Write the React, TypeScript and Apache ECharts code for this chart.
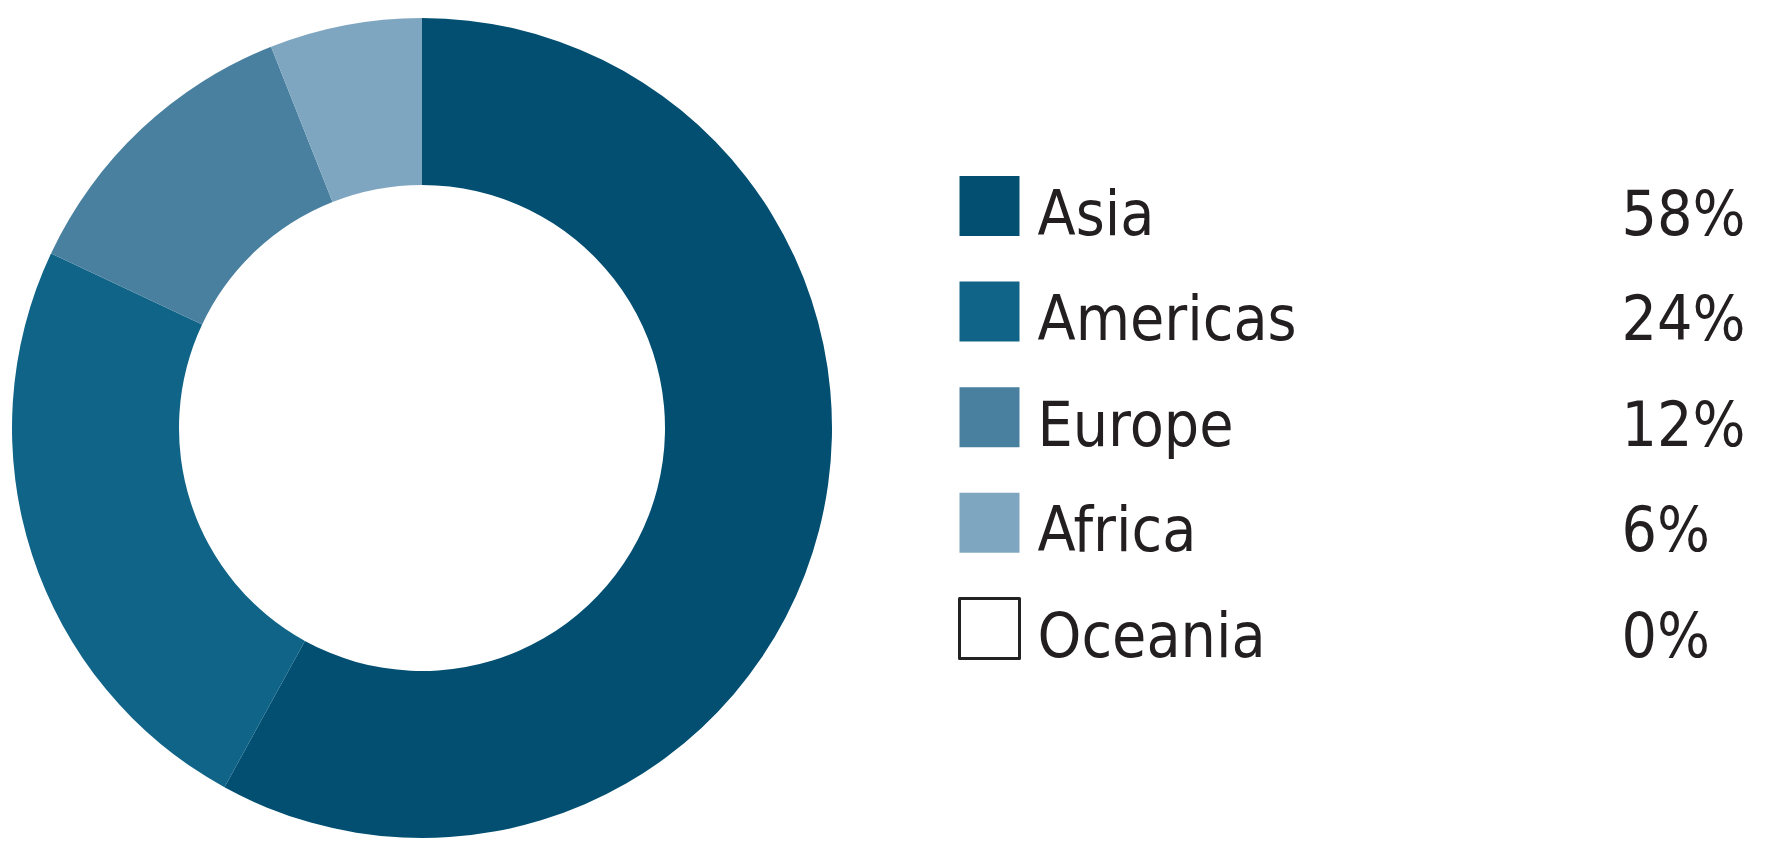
import React, { useEffect, useRef } from "react";
import * as echarts from "echarts";

const regions = ["Asia", "Americas", "Europe", "Africa", "Oceania"];
const shares = [58, 24, 12, 6, 0];
const colors = ["#024f72", "#106488", "#4a809f", "#7fa6c0", "#ffffff"];

export default function App() {
  const ref = useRef<HTMLDivElement>(null);
  useEffect(() => {
    document.body.style.margin = "0";
    const chart = echarts.init(ref.current!, null, { renderer: "svg" });
    const font = "'DejaVu Sans Condensed', 'DejaVu Sans', sans-serif";
    chart.setOption({
      animation: false,
      backgroundColor: "#ffffff",
      legend: {
        orient: "vertical",
        left: 958,
        top: 168,
        padding: 0,
        itemWidth: 60,
        itemHeight: 60,
        itemGap: 29.6,
        selectedMode: false,
        icon: "rect",
        data: regions.map((r, i) =>
          i === regions.length - 1
            ? { name: r, itemStyle: { color: "#ffffff", borderColor: "#222222", borderWidth: 3 } }
            : { name: r }
        ),
        formatter: (name: string) => {
          const i = regions.indexOf(name);
          return `{n|${name}}{v|${shares[i]}%}`;
        },
        textStyle: {
          rich: {
            n: { fontFamily: font, fontSize: 62, color: "#231f20", width: 584, lineHeight: 46, padding: [14, 0, 0, 13] },
            v: { fontFamily: font, fontSize: 62, color: "#231f20", lineHeight: 46, padding: [14, 0, 0, 0] },
          },
        },
      },
      series: [
        {
          type: "pie",
          center: [422, 428],
          radius: [243, 410],
          startAngle: 90,
          clockwise: true,
          label: { show: false },
          labelLine: { show: false },
          emphasis: { disabled: true },
          itemStyle: { borderWidth: 0 },
          data: regions.map((r, i) => ({
            name: r,
            value: shares[i],
            itemStyle: { color: colors[i] },
          })),
        },
      ],
    });
    return () => chart.dispose();
  }, []);
  return <div ref={ref} style={{ width: 1774, height: 853 }} />;
}
